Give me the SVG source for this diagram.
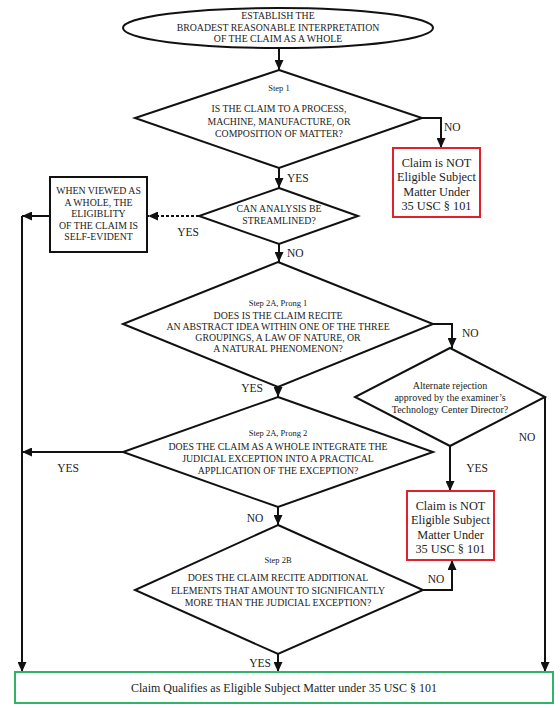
<svg xmlns="http://www.w3.org/2000/svg" width="560" height="710" viewBox="0 0 560 710">
<defs>
<marker id="arr" markerUnits="userSpaceOnUse" markerWidth="10" markerHeight="9" refX="10" refY="4.5" orient="auto">
<path d="M0,0 L10,4.5 L0,9 z" fill="#111"/>
</marker>
<style>
.sh{fill:#fff;stroke:#111;stroke-width:2}
.red{fill:#fff;stroke:#e0212b;stroke-width:2}
.grn{fill:#fff;stroke:#2fb36b;stroke-width:2}
.c{fill:none;stroke:#111;stroke-width:2;marker-end:url(#arr)}
.d{fill:none;stroke:#111;stroke-width:2;stroke-dasharray:3 2;marker-end:url(#arr)}
text{font-family:"Times New Roman",Times,"Liberation Serif","Nimbus Roman","DejaVu Serif",serif;fill:#222;text-anchor:middle}
.u{font-size:9.8px}
.s{font-size:8.5px}
.a{font-size:10px}
.b{font-size:12.3px}
.l{font-size:11.5px}
.st{text-anchor:start}
</style>
</defs>
<rect width="560" height="710" fill="#fff"/>

<g id="connectors">
<path class="c" d="M279,48 V70"/>
<path class="c" d="M422,118 H441 V148"/>
<path class="c" d="M279,168 V188"/>
<path class="d" d="M199,216 H148"/>
<path class="c" d="M50,216 H22"/>
<path class="c" d="M22,216 V672"/>
<path class="c" d="M279,244 V262"/>
<path class="c" d="M433,324 H452 V348"/>
<path class="c" d="M278,387 V397"/>
<path class="c" d="M450,446 V491"/>
<path class="c" d="M545,397 V672"/>
<path class="c" d="M123,452 H22"/>
<path class="c" d="M278,507 V525"/>
<path class="c" d="M423,590 H452 V560"/>
<path class="c" d="M278,654 V672"/>
<text class="l st" x="444" y="131">NO</text>
<text class="l st" x="287" y="182">YES</text>
<text class="l" x="188" y="236">YES</text>
<text class="l st" x="287" y="257">NO</text>
<text class="l st" x="462" y="337">NO</text>
<text class="l" x="252" y="392">YES</text>
<text class="l" x="68" y="472">YES</text>
<text class="l" x="477" y="472">YES</text>
<text class="l" x="527" y="441">NO</text>
<text class="l" x="255" y="522">NO</text>
<text class="l" x="436" y="583">NO</text>
<text class="l" x="260" y="667">YES</text>
</g>

<g id="start">
<ellipse class="sh" cx="278" cy="28" rx="155" ry="20"/>
<text class="u" x="278" y="19">ESTABLISH THE</text>
<text class="u" x="278" y="30.5">BROADEST REASONABLE INTERPRETATION</text>
<text class="u" x="278" y="42">OF THE CLAIM AS A WHOLE</text>
</g>

<g id="step1">
<polygon class="sh" points="279,70 422,118 279,168 135,118"/>
<text class="s" x="279" y="91">Step 1</text>
<text class="u" x="279" y="111.5">IS THE CLAIM TO A PROCESS,</text>
<text class="u" x="279" y="124.5">MACHINE, MANUFACTURE, OR</text>
<text class="u" x="279" y="136.5">COMPOSITION OF MATTER?</text>
</g>

<g id="not-eligible-1">
<rect class="red" x="393" y="148" width="87" height="69"/>
<text class="b" x="436.5" y="166.8">Claim is NOT</text>
<text class="b" x="436.5" y="181.3">Eligible Subject</text>
<text class="b" x="436.5" y="195.8">Matter Under</text>
<text class="b" x="436.5" y="210.3">35 USC § 101</text>
</g>

<g id="streamlined">
<polygon class="sh" points="279,188 358,216 279,244 199,216"/>
<text class="u" x="279" y="211.5">CAN ANALYSIS BE</text>
<text class="u" x="279" y="223.5">STREAMLINED?</text>
</g>

<g id="self-evident">
<rect class="sh" x="50" y="177" width="97" height="75"/>
<text class="u" x="98.5" y="194.4">WHEN VIEWED AS</text>
<text class="u" x="98.5" y="205.9">A WHOLE, THE</text>
<text class="u" x="98.5" y="217.4">ELIGIBLITY</text>
<text class="u" x="98.5" y="228.9">OF THE CLAIM IS</text>
<text class="u" x="98.5" y="240.4">SELF-EVIDENT</text>
</g>

<g id="step2a-prong1">
<polygon class="sh" points="278,262 433,324 278,387 123,324"/>
<text class="s" x="278" y="306">Step 2A, Prong 1</text>
<text class="u" x="278" y="318.5">DOES IS THE CLAIM RECITE</text>
<text class="u" x="278" y="329.5">AN ABSTRACT IDEA WITHIN ONE OF THE THREE</text>
<text class="u" x="278" y="340.5">GROUPINGS, A LAW OF NATURE, OR</text>
<text class="u" x="278" y="351.5">A NATURAL PHENOMENON?</text>
</g>

<g id="alternate">
<polygon class="sh" points="450,348 545,397 450,446 355,397"/>
<text class="a" x="450" y="388.5">Alternate rejection</text>
<text class="a" x="450" y="400.5">approved by the examiner’s</text>
<text class="a" x="450" y="412.5">Technology Center Director?</text>
</g>

<g id="step2a-prong2">
<polygon class="sh" points="278,397 433,452 278,507 123,452"/>
<text class="s" x="278" y="436">Step 2A, Prong 2</text>
<text class="u" x="278" y="449.5">DOES THE CLAIM AS A WHOLE INTEGRATE THE</text>
<text class="u" x="278" y="461.5">JUDICIAL EXCEPTION INTO A PRACTICAL</text>
<text class="u" x="278" y="473.5">APPLICATION OF THE EXCEPTION?</text>
</g>

<g id="not-eligible-2">
<rect class="red" x="407" y="491" width="87" height="69"/>
<text class="b" x="450.5" y="509.8">Claim is NOT</text>
<text class="b" x="450.5" y="524.3">Eligible Subject</text>
<text class="b" x="450.5" y="538.8">Matter Under</text>
<text class="b" x="450.5" y="553.3">35 USC § 101</text>
</g>

<g id="step2b">
<polygon class="sh" points="278,525 423,590 278,654 135,590"/>
<text class="s" x="278" y="563">Step 2B</text>
<text class="u" x="278" y="580.5">DOES THE CLAIM RECITE ADDITIONAL</text>
<text class="u" x="278" y="593.5">ELEMENTS THAT AMOUNT TO SIGNIFICANTLY</text>
<text class="u" x="278" y="605.5">MORE THAN THE JUDICIAL EXCEPTION?</text>
</g>

<g id="eligible">
<rect class="grn" x="15" y="672" width="538" height="31"/>
<text style="font-size:12px" x="284" y="692">Claim Qualifies as Eligible Subject Matter under 35 USC § 101</text>
</g>
</svg>
